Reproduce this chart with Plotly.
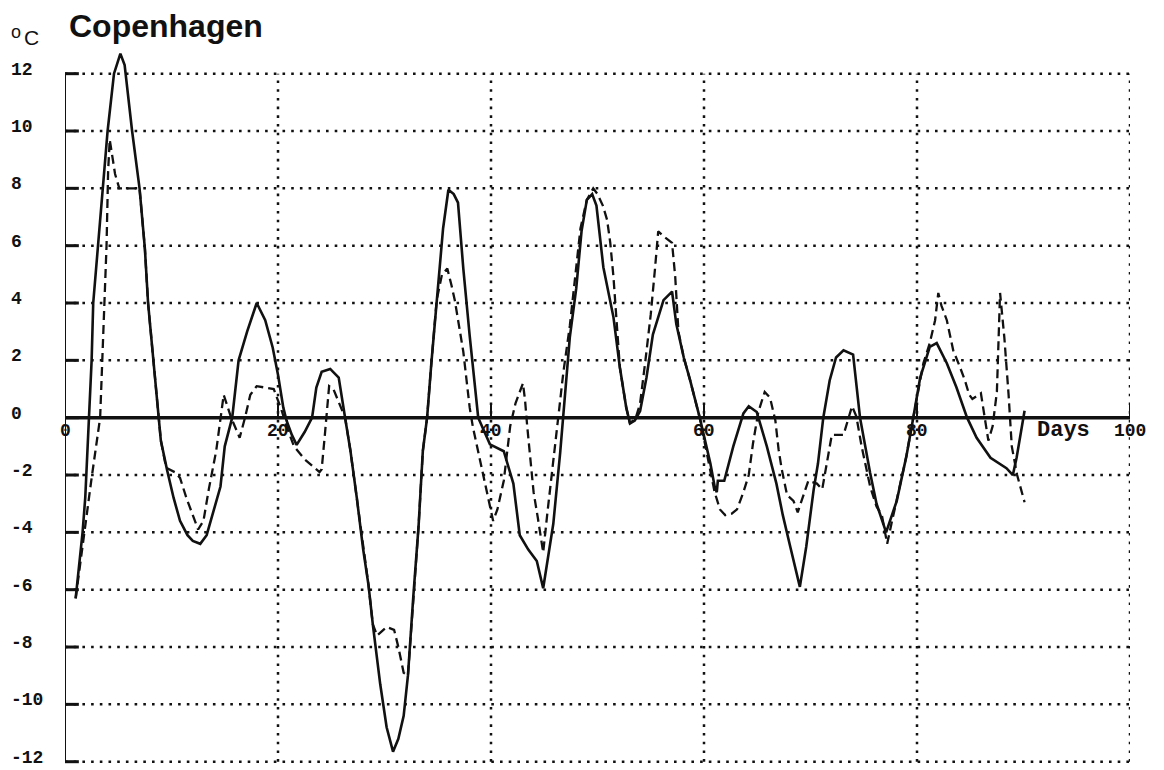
import plotly.graph_objects as go

# Observed daily mean temperature (solid line)
obs_day = [1.0, 1.3, 1.65, 1.9, 2.05, 2.3, 2.5, 2.65, 3.1, 3.55, 4.0, 4.6, 5.2, 5.6, 6.3, 7.0, 7.5,
           7.8, 8.3, 8.8, 9.0, 9.6, 10.2, 10.8, 11.5, 12.0, 12.7, 13.3, 13.9, 14.6, 15.0, 15.7, 16.3,
           17.1, 18.0, 18.8, 19.5, 20.0, 20.5, 20.8, 21.3, 21.75, 22.5, 23.2, 23.6, 24.1, 24.9, 25.7,
           26.3, 26.8, 27.4, 28.0, 28.5, 28.9, 29.6, 30.2, 30.8, 31.3, 31.8, 32.2, 32.7, 33.2, 33.6,
           34.0, 34.4, 34.9, 35.5, 36.0, 36.5, 36.9, 37.4, 38.0, 38.8, 39.9, 41.2, 42.1, 42.7, 43.5,
           44.3, 44.9, 45.4, 45.85, 46.5, 46.9, 47.4, 48.0, 48.5, 49.0, 49.5, 49.9, 50.55, 51.5, 52.1,
           52.7, 53.05, 53.5, 54.0, 54.6, 55.2, 56.2, 57.0, 57.4, 58.1, 58.7, 59.6, 60.6, 61.0, 61.2,
           61.3, 61.9, 62.75, 63.7, 64.2, 64.95, 65.9, 66.8, 67.4, 68.1, 68.7, 69.0, 69.6, 70.3, 70.7,
           71.2, 71.8, 72.4, 73.1, 74.0, 74.65, 75.6, 76.2, 77.1, 78.1, 79.0, 79.65, 80.3, 81.2, 81.85,
           82.8, 83.7, 84.7, 85.6, 86.9, 88.4, 89.0, 89.35, 90.1]
obs_temp = [-6.3, -5.2, -4.0, -2.8, -1.6, 0.0, 2.0, 4.0, 6.0, 8.0, 10.0, 12.0, 12.7, 12.3, 10.0, 8.0, 5.9,
            4.0, 2.0, 0.0, -0.8, -1.85, -2.8, -3.6, -4.1, -4.3, -4.4, -4.1, -3.35, -2.4, -1.0, 0.0, 2.0,
            3.0, 4.0, 3.4, 2.45, 1.5, 0.35, -0.1, -0.6, -0.95, -0.5, 0.0, 1.05, 1.6, 1.7, 1.4,
            0.0, -1.15, -2.8, -4.6, -5.85, -7.2, -9.3, -10.8, -11.65, -11.2, -10.4, -9.0, -6.26, -3.78, -1.16,
            0.0, 1.9, 4.1, 6.6, 7.95, 7.8, 7.5, 5.2, 2.85, 0.0, -0.93, -1.17, -2.3, -4.1, -4.6,
            -5.0, -5.95, -4.8, -3.7, -1.2, 0.6, 2.8, 4.5, 6.5, 7.6, 7.8, 7.4, 5.25, 3.5, 1.75,
            0.35, -0.2, -0.1, 0.23, 1.4, 2.9, 4.1, 4.4, 3.27, 2.1, 1.3, 0.0, -1.6, -2.4, -2.6,
            -2.2, -2.2, -1.0, 0.15, 0.4, 0.2, -1.0, -2.3, -3.4, -4.5, -5.5, -5.9, -4.5, -2.5, -1.6,
            0.0, 1.3, 2.1, 2.35, 2.2, 0.0, -1.93, -3.0, -4.0, -2.9, -1.35, 0.0, 1.4, 2.47, 2.6,
            1.9, 1.06, 0.0, -0.7, -1.4, -1.76, -2.0, -1.4, 0.24]

# Forecast temperature (dashed line)
fc_day = [1.0, 1.6, 2.0, 2.5, 3.0, 3.3, 3.5, 3.7, 3.9, 4.05, 4.2, 4.7, 5.1, 6.1, 7.0, 7.5, 7.8, 8.3,
          8.8, 9.0, 9.5, 10.3, 10.8, 11.4, 12.0, 12.5, 13.0, 13.5, 14.2, 14.7, 14.9, 15.6, 16.4, 16.9,
          17.4, 18.0, 19.6, 20.3, 20.9, 21.5, 22.5, 23.9, 24.1, 24.4, 24.7, 24.8, 25.2, 26.3, 26.8,
          27.4, 28.0, 28.5, 28.9, 29.3, 30.2, 30.9, 31.3, 31.8, 32.2, 32.7, 33.2, 33.6, 34.0, 34.4,
          34.9, 35.4, 35.9, 36.3, 36.6, 37.4, 38.0, 38.3, 39.0, 39.6, 40.2, 40.6, 41.2, 41.8, 42.3,
          43.0, 43.2, 43.4, 43.7, 44.0, 44.4, 44.9, 45.3, 45.8, 46.3, 46.8, 47.4, 47.9, 48.4, 49.0,
          49.6, 50.0, 50.5, 50.9, 51.2, 51.5, 51.7, 52.1, 52.7, 53.05, 53.6, 54.0, 54.5, 55.0, 55.4,
          55.7, 56.3, 57.0, 57.3, 57.6, 58.1, 58.7, 59.6, 60.6, 61.0, 61.5, 62.0, 62.6, 63.1, 63.7,
          64.2, 64.6, 65.1, 65.7, 66.2, 66.7, 67.0, 67.3, 67.8, 68.4, 68.8, 69.8, 70.6, 71.1, 71.4,
          71.8, 72.0, 73.1, 73.9, 74.3, 74.8, 75.6, 76.2, 76.7, 77.2, 77.6, 78.1, 79.0, 79.65, 80.6,
          81.2, 81.7, 82.0, 82.3, 82.8, 83.4, 84.0, 84.5, 84.9, 85.2, 86.0, 86.3, 86.7, 87.1, 87.5,
          87.8, 88.2, 88.6, 88.9, 89.4, 90.1]
fc_temp = [-6.3, -4.5, -3.5, -2.1, -0.7, 0.0, 2.0, 4.0, 6.0, 8.6, 9.7, 8.5, 8.0, 8.0, 8.0, 5.9, 4.0, 2.0,
           0.0, -0.8, -1.75, -1.9, -2.1, -2.8, -3.4, -3.9, -3.6, -2.5, -1.15, 0.2, 0.8, 0.0, -0.7, 0.0,
           0.8, 1.1, 1.0, 0.3, -0.4, -1.0, -1.45, -1.9, -1.8, -0.6, 0.6, 1.1, 1.0, 0.0, -1.15,
           -2.8, -4.6, -5.85, -7.2, -7.6, -7.3, -7.4, -8.0, -8.9, -9.0, -6.26, -3.78, -1.16, 0.0, 1.9,
           4.1, 5.0, 5.2, 4.6, 4.1, 2.3, 0.35, -0.33, -1.5, -2.5, -3.6, -3.2, -2.2, -0.3, 0.5,
           1.2, 0.6, -0.3, -1.4, -2.6, -3.5, -4.7, -3.3, -1.6, 0.0, 1.6, 3.2, 5.0, 6.6, 7.6,
           8.0, 7.8, 7.4, 6.9, 6.1, 4.9, 3.9, 1.75, 0.35, -0.2, 0.0, 0.5, 2.0, 3.6, 5.2,
           6.5, 6.3, 6.1, 4.9, 3.0, 2.1, 1.3, 0.0, -1.8, -2.6, -3.2, -3.4, -3.35, -3.2, -2.6,
           -2.0, -0.9, 0.2, 0.9, 0.7, -0.1, -1.1, -1.8, -2.7, -2.9, -3.3, -2.2, -2.3, -2.5, -1.9,
           -1.1, -0.6, -0.6, 0.4, 0.05, -1.0, -2.4, -3.1, -3.4, -4.4, -3.7, -2.9, -1.35, 0.0, 1.9,
           2.6, 3.4, 4.35, 3.9, 3.4, 2.35, 1.8, 1.3, 0.8, 0.65, 0.85, 0.1, -0.8, -0.3, 0.9,
           4.35, 2.8, 0.8, -1.0, -2.0, -2.95]

# Axis ticks and labels
x_ticks = [0, 20, 40, 60, 80, 100]
x_tick_text = ["0", "20", "40", "60", "80", "100"]
y_ticks = [12, 10, 8, 6, 4, 2, 0, -2, -4, -6, -8, -10, -12]
y_tick_text = ["12", "10", "8", "6", "4", "2", "0", "-2", "-4", "-6", "-8", "-10", "-12"]
x_title = "Days"
unit_text = ("o", "C")
title_text = "Copenhagen"

INK = "#111111"
DOT = "2.6px,6.1px"

fig = go.Figure()

fig.add_trace(go.Scatter(x=obs_day, y=obs_temp, mode="lines",
                         line=dict(color=INK, width=2.6), hoverinfo="skip", showlegend=False))
fig.add_trace(go.Scatter(x=fc_day, y=fc_temp, mode="lines",
                         line=dict(color=INK, width=2.3, dash="9px,5px"), hoverinfo="skip",
                         showlegend=False))

# Dotted grid
for v in y_ticks:
    if v == 0:
        continue
    fig.add_shape(type="line", x0=0, x1=100, y0=v, y1=v, layer="below",
                  line=dict(color=INK, width=2.5, dash=DOT))
for v in x_ticks[1:]:
    fig.add_shape(type="line", x0=v, x1=v, y0=-12, y1=12, layer="below",
                  line=dict(color=INK, width=2.5, dash=DOT))

# Left axis with inward ticks
fig.add_shape(type="line", x0=0, x1=0, y0=-12, y1=12, line=dict(color=INK, width=2))
for v in y_ticks:
    fig.add_shape(type="line", x0=0, x1=1.3, y0=v, y1=v, line=dict(color=INK, width=3))

# Zero axis with upward ticks
fig.add_shape(type="line", x0=0, x1=100, y0=0, y1=0, line=dict(color=INK, width=3.4))
for v in x_ticks[1:]:
    fig.add_shape(type="line", x0=v, x1=v, y0=0, y1=0.45, line=dict(color=INK, width=2))

tick_font = dict(family="Liberation Mono", size=18, color=INK, weight="bold")

annotations = []
for v, t in zip(y_ticks, y_tick_text):
    annotations.append(dict(xref="paper", yref="y", x=0, y=v, text=t, showarrow=False,
                            xanchor="left", yanchor="middle", xshift=-56, yshift=4,
                            font=tick_font))
for v, t in zip(x_ticks, x_tick_text):
    annotations.append(dict(xref="x", yref="y", x=v, y=0, text=t, showarrow=False,
                            xanchor="center", yanchor="middle", yshift=-13, font=tick_font))
annotations.append(dict(xref="x", yref="y", x=93.75, y=0, text=x_title, showarrow=False,
                        xanchor="center", yanchor="middle", yshift=-13,
                        font=dict(family="Liberation Mono", size=22, color=INK, weight="bold")))
annotations.append(dict(xref="paper", yref="paper", x=0, y=1, text=title_text, showarrow=False,
                        xanchor="left", yanchor="middle", xshift=2, yshift=19,
                        font=dict(family="Liberation Sans", size=32, color=INK, weight="bold")))
annotations.append(dict(xref="paper", yref="paper", x=0, y=1, text=unit_text[0], showarrow=False,
                        xanchor="left", yanchor="middle", xshift=-56, yshift=13,
                        font=dict(family="Liberation Sans", size=18, color=INK)))
annotations.append(dict(xref="paper", yref="paper", x=0, y=1, text=unit_text[1], showarrow=False,
                        xanchor="left", yanchor="middle", xshift=-43, yshift=8,
                        font=dict(family="Liberation Sans", size=21, color=INK)))

fig.update_layout(
    width=1164, height=770, autosize=False,
    margin=dict(l=65, r=34, t=45, b=4, pad=0),
    paper_bgcolor="white", plot_bgcolor="white",
    xaxis=dict(range=[0, 100], visible=False, fixedrange=True),
    yaxis=dict(range=[-12.15, 13.0], visible=False, fixedrange=True),
    annotations=annotations,
    showlegend=False,
)

fig.write_html("out.html")
